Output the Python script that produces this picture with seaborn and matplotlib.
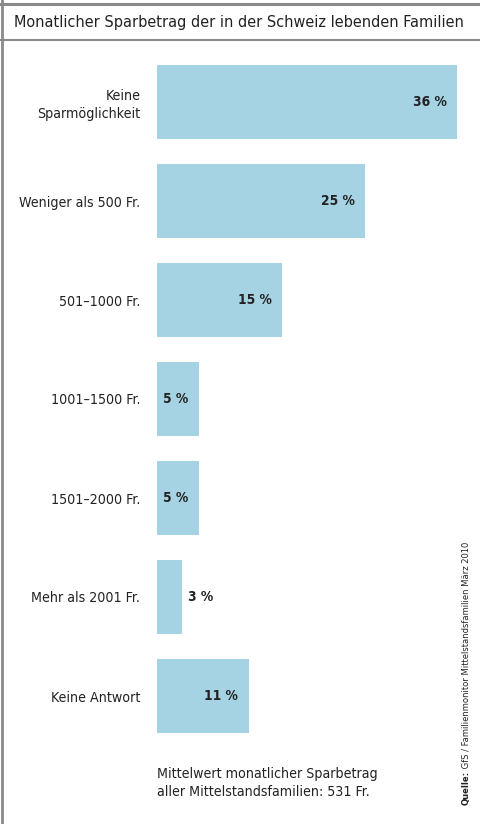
import matplotlib
matplotlib.use("Agg")
import matplotlib.pyplot as plt
import seaborn as sns
import pandas as pd

categories = ["Keine\nSparmöglichkeit", "Weniger als 500 Fr.", "501–1000 Fr.",
              "1001–1500 Fr.", "1501–2000 Fr.", "Mehr als 2001 Fr.", "Keine Antwort"]
values = [36, 25, 15, 5, 5, 3, 11]
value_labels = ["36 %", "25 %", "15 %", "5 %", "5 %", "3 %", "11 %"]
title = "Monatlicher Sparbetrag der in der Schweiz lebenden Familien"
footer = "Mittelwert monatlicher Sparbetrag\naller Mittelstandsfamilien: 531 Fr."
source_bold = "Quelle:"
source_text = " GfS / Familienmonitor Mittelstandsfamilien März 2010"

sns.set_theme(style="white")
plt.rcParams["font.family"] = ["DejaVu Sans"]
plt.rcParams["font.stretch"] = "condensed"

W, H = 480, 824
fig = plt.figure(figsize=(W / 100, H / 100), dpi=100)
renderer = fig.canvas.get_renderer()


def fit_size(text, target_px, weight="normal", base=12.0):
    t = fig.text(0, 0, text, fontsize=base, fontweight=weight, fontstretch="condensed")
    w = t.get_window_extent(renderer=renderer).width
    t.remove()
    return base * target_px / w


title_fs = fit_size(title, 448)
label_fs = fit_size("Weniger als 500 Fr.", 121)
footer_fs = fit_size("Mittelwert monatlicher Sparbetrag", 219)
val_fs = fit_size("36 %", 34, weight="bold")
src_fs = fit_size(source_bold + source_text, 258)

ax_left, ax_right = 157, 457
ax_top, ax_bot = 52.5, 745.5
ax = fig.add_axes([ax_left / W, 1 - ax_bot / H, (ax_right - ax_left) / W, (ax_bot - ax_top) / H])

df = pd.DataFrame({"cat": categories, "val": values})
sns.barplot(data=df, x="val", y="cat", orient="h", color="#a5d3e3", saturation=1,
            width=0.74, ax=ax, linewidth=0)
ax.set_xlim(0, 36)
ax.set_ylim(6.5, -0.5)
for s in ax.spines.values():
    s.set_visible(False)
ax.set_xticks([])
ax.set_xlabel("")
ax.set_ylabel("")
ax.tick_params(axis="y", length=0, pad=12, labelsize=label_fs, labelcolor="#222222")
for lab in ax.get_yticklabels():
    lab.set_horizontalalignment("right")
    lab.set_multialignment("right")
    lab.set_fontstretch("condensed")
    lab.set_linespacing(1.3)

for i, (v, t) in enumerate(zip(values, value_labels)):
    if v >= 4:
        ax.annotate(t, (v, i), xytext=(-7.5, 0), textcoords="offset points",
                    ha="right", va="center", fontsize=val_fs, fontweight="bold",
                    fontstretch="condensed", color="#222222")
    else:
        ax.annotate(t, (v, i), xytext=(4.5, 0), textcoords="offset points",
                    ha="left", va="center", fontsize=val_fs, fontweight="bold",
                    fontstretch="condensed", color="#222222")

# frame lines
gray = "#8a8a8a"
fig.add_artist(plt.Line2D([0, 1], [1 - 3.5 / H, 1 - 3.5 / H], color=gray, lw=2.2))
fig.add_artist(plt.Line2D([0, 1], [1 - 40 / H, 1 - 40 / H], color=gray, lw=1.5))
fig.add_artist(plt.Line2D([1.5 / W, 1.5 / W], [0, 1], color=gray, lw=2))

fig.text(14 / W, 1 - 22 / H, title, ha="left", va="center", fontsize=title_fs,
         fontstretch="condensed", color="#222222")
fig.text(157 / W, 1 - 783 / H, footer, ha="left", va="center", fontsize=footer_fs,
         fontstretch="condensed", color="#222222", linespacing=1.35)

# vertical source
t1 = fig.text(466 / W, 1 - 805 / H, source_bold, rotation=90, ha="center",
              va="bottom", fontsize=src_fs, fontweight="bold", fontstretch="condensed",
              color="#222222")
bb = t1.get_window_extent(renderer=renderer)
fig.text(466 / W, bb.y1 / H, source_text, rotation=90, ha="center", va="bottom",
         fontsize=src_fs, fontstretch="condensed", color="#222222")

fig.savefig("out.png", dpi=100)
